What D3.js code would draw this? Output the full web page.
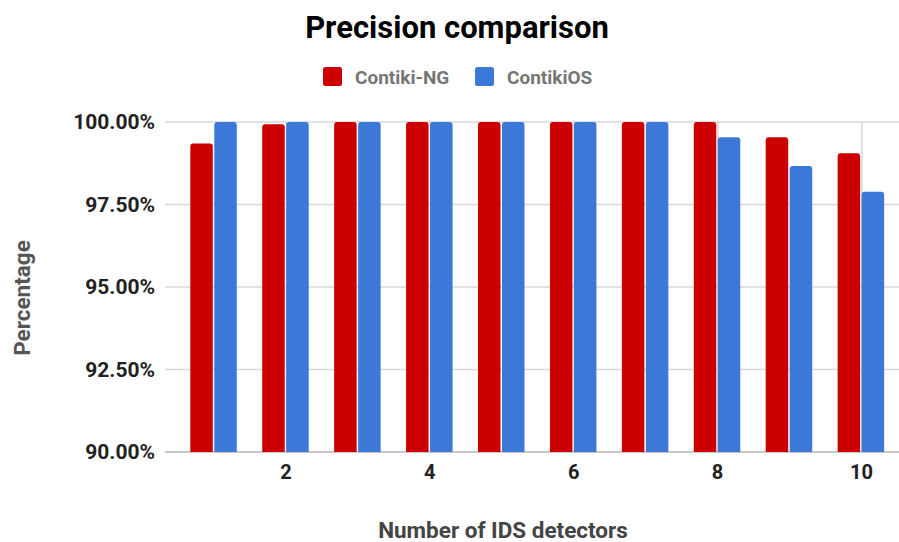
<!DOCTYPE html>
<html>
<head>
<meta charset="utf-8">
<script src="https://cdn.jsdelivr.net/npm/d3@7"></script>
<style>
  body { margin: 0; background: #fff; }
  text { font-family: Roboto, "Noto Sans", sans-serif; }
</style>
</head>
<body>
<svg id="chart"></svg>
<script>
// detectors on the x axis
const detectors = [1, 2, 3, 4, 5, 6, 7, 8, 9, 10];
// precision in percent
const contikiNG = [99.35, 99.93, 100, 100, 100, 100, 100, 100, 99.54, 99.05];
const contikiOS = [100, 100, 100, 100, 100, 100, 100, 99.54, 98.67, 97.89];
const seriesNames = ["Contiki-NG", "ContikiOS"];
const yTicks = [90, 92.5, 95, 97.5, 100];
const xTicks = [2, 4, 6, 8, 10];

const W = 899, H = 542;
const plot = { left: 165, right: 899, top: 122, bottom: 452 };

const svg = d3.select("#chart")
    .attr("width", W)
    .attr("height", H);

const x = d3.scaleLinear()
    .domain([0.325, 10.53])
    .range([plot.left, plot.right]);

const y = d3.scaleLinear()
    .domain([90, 100])
    .range([plot.bottom, plot.top]);

const color = d3.scaleOrdinal()
    .domain(seriesNames)
    .range(["#cc0000", "#3c78d8"]);

const barW = 22.5, gap = 1.5;

// horizontal gridlines
svg.append("g")
    .selectAll("line")
    .data(yTicks)
    .join("line")
    .attr("x1", plot.left)
    .attr("x2", plot.right)
    .attr("y1", d => y(d))
    .attr("y2", d => y(d))
    .attr("stroke", d => d === 90 ? "#b7b7b7" : "#d9d9d9")
    .attr("stroke-width", 1.3);

// vertical gridlines at the x ticks (mostly hidden behind bars)
svg.append("g")
    .selectAll("line")
    .data(xTicks)
    .join("line")
    .attr("x1", d => x(d) + 1)
    .attr("x2", d => x(d) + 1)
    .attr("y1", plot.top)
    .attr("y2", plot.bottom)
    .attr("stroke", "#d0d0d0")
    .attr("stroke-width", 1.3);

// bar with rounded top corners
function barPath(x0, w, yTop, yBase) {
    const r = Math.min(3, (yBase - yTop) / 2);
    return `M${x0},${yBase}V${yTop + r}Q${x0},${yTop} ${x0 + r},${yTop}` +
        `H${x0 + w - r}Q${x0 + w},${yTop} ${x0 + w},${yTop + r}V${yBase}Z`;
}

const barData = [];
detectors.forEach((d, i) => {
    barData.push({ det: d, v: contikiNG[i], s: seriesNames[0], off: -barW - gap / 2 });
    barData.push({ det: d, v: contikiOS[i], s: seriesNames[1], off: gap / 2 });
});

svg.append("g")
    .selectAll("path")
    .data(barData)
    .join("path")
    .attr("d", d => barPath(x(d.det) + d.off, barW, y(d.v), y(90)))
    .attr("fill", d => color(d.s));

// y axis labels
const yAxis = svg.append("g")
    .attr("transform", `translate(${plot.left},0)`)
    .call(d3.axisLeft(y).tickValues(yTicks).tickSize(0).tickPadding(10)
        .tickFormat(d => d.toFixed(2) + "%"));
yAxis.select(".domain").remove();
yAxis.selectAll("text")
    .style("font-size", "21px")
    .style("font-weight", "bold")
    .attr("fill", "#222");

// x axis labels
const xAxis = svg.append("g")
    .attr("transform", `translate(0,${plot.bottom})`)
    .call(d3.axisBottom(x).tickValues(xTicks).tickSize(0).tickPadding(13));
xAxis.select(".domain").remove();
xAxis.selectAll("text")
    .style("font-size", "20px")
    .style("font-weight", "bold")
    .attr("fill", "#222");

// title
svg.append("text")
    .attr("x", 457)
    .attr("y", 38)
    .attr("text-anchor", "middle")
    .style("font-size", "31px")
    .style("font-weight", "bold")
    .attr("fill", "#000")
    .text("Precision comparison");

// legend
const legendPos = [323, 475];
seriesNames.forEach((name, i) => {
    const g = svg.append("g").attr("transform", `translate(${legendPos[i]},67)`);
    g.append("rect")
        .attr("width", 19)
        .attr("height", 19)
        .attr("rx", 2.5)
        .attr("fill", color(name));
    g.append("text")
        .attr("x", 32)
        .attr("y", 16.5)
        .style("font-size", "19px")
        .style("font-weight", "bold")
        .attr("fill", "#757575")
        .text(name);
});

// axis titles
svg.append("text")
    .attr("transform", "rotate(-90)")
    .attr("x", -298)
    .attr("y", 30)
    .attr("text-anchor", "middle")
    .style("font-size", "22.5px")
    .style("font-weight", "bold")
    .attr("fill", "#555")
    .text("Percentage");

svg.append("text")
    .attr("x", 503)
    .attr("y", 538)
    .attr("text-anchor", "middle")
    .style("font-size", "22.5px")
    .style("font-weight", "bold")
    .attr("fill", "#444")
    .text("Number of IDS detectors");
</script>
</body>
</html>
